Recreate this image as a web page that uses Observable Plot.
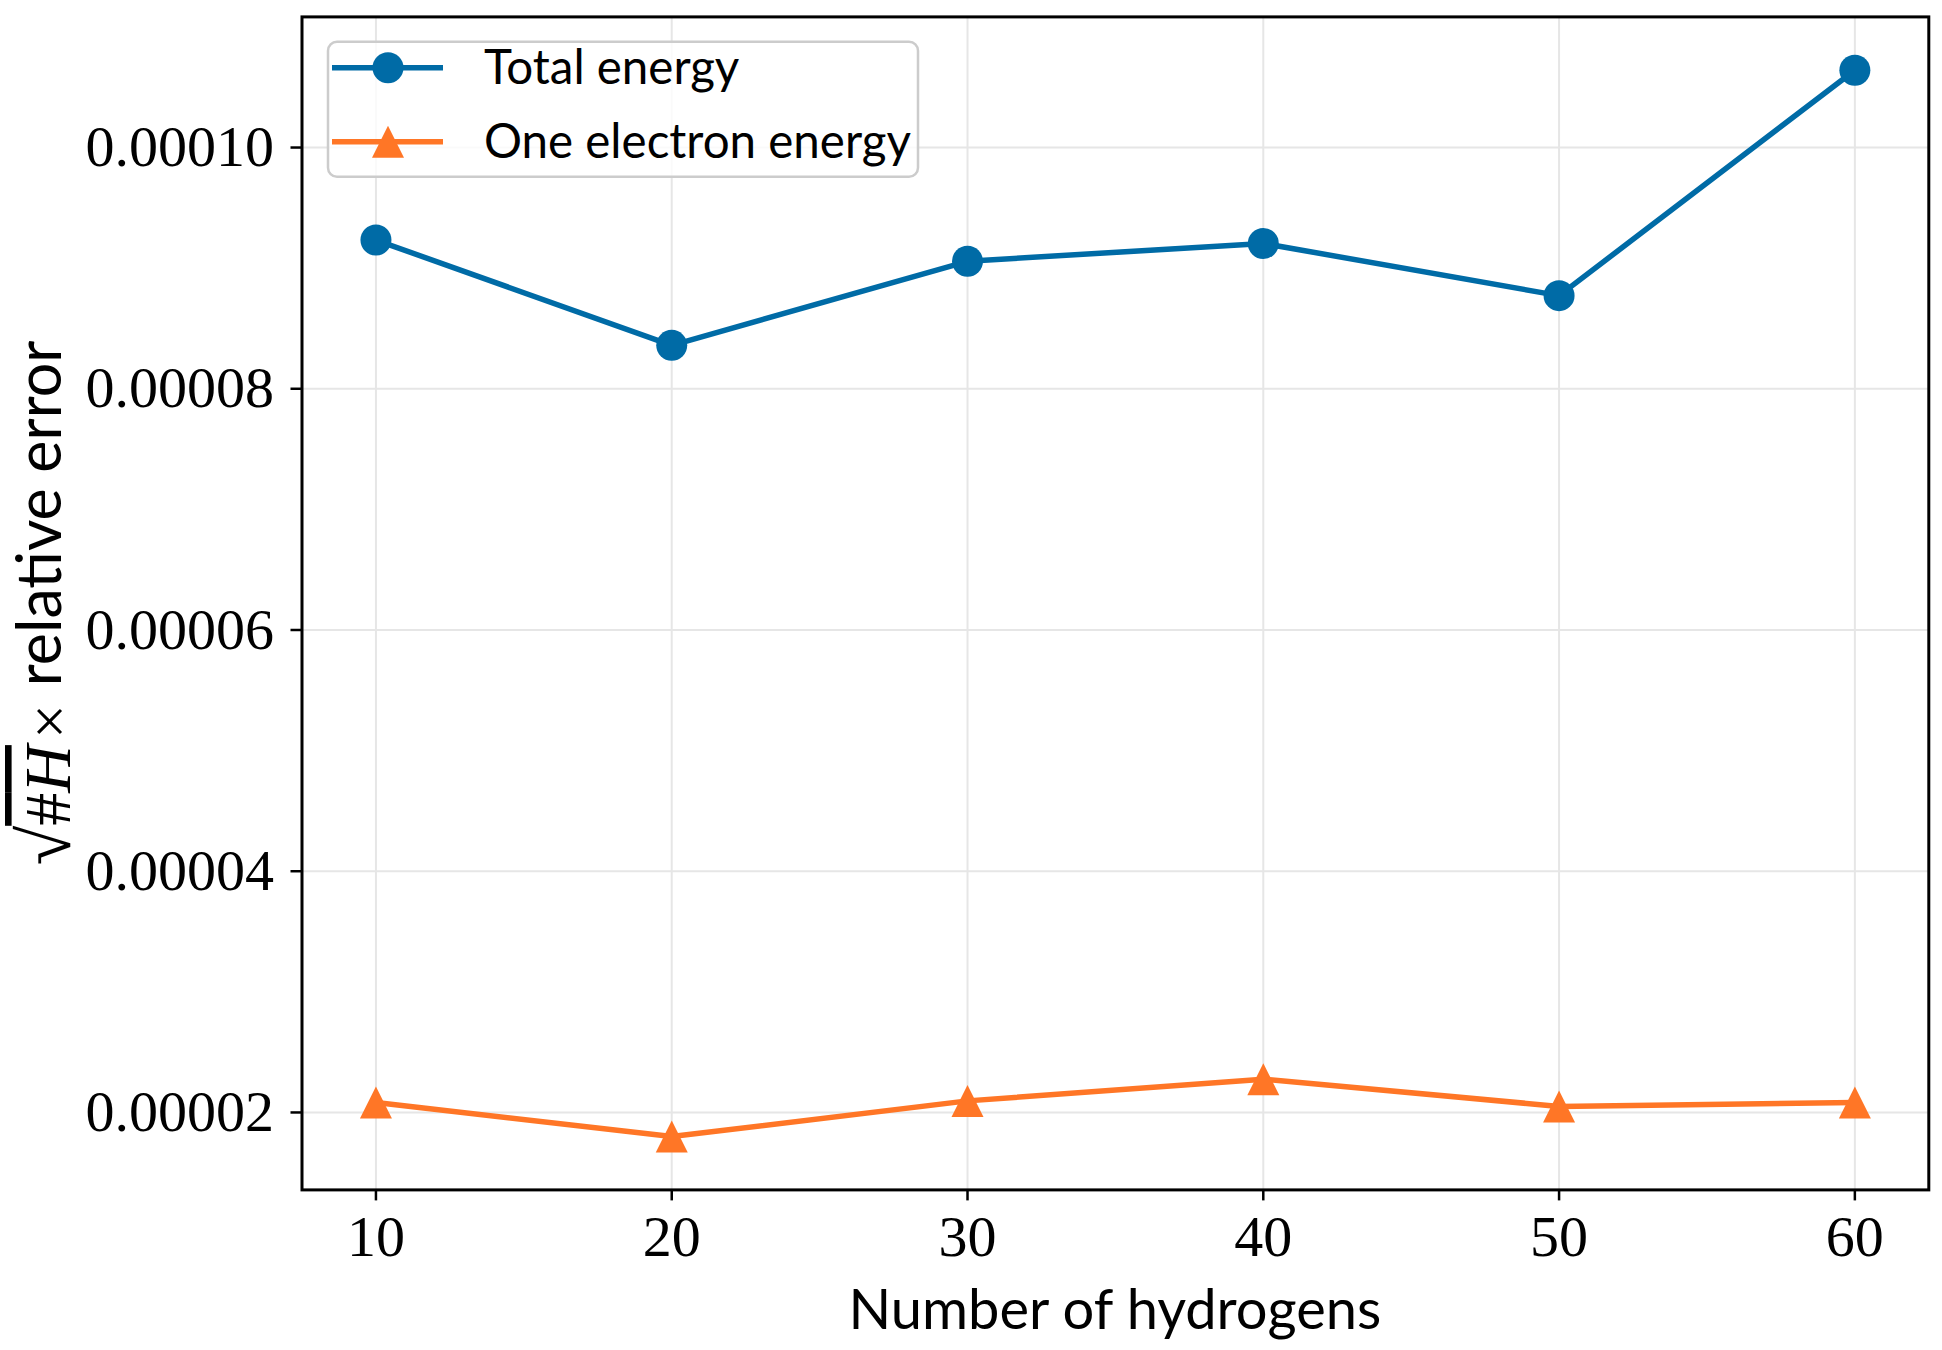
<!DOCTYPE html>
<html><head><meta charset="utf-8">
<script src="https://cdn.jsdelivr.net/npm/d3@7"></script>
<script src="https://cdn.jsdelivr.net/npm/@observablehq/plot@0.6"></script>
<style>body{margin:0;background:#fff}</style>
</head><body><div id="chart"></div>
<script>
const hydrogens = [10, 20, 30, 40, 50, 60];
const totalEnergy = [9.233e-5, 8.36e-5, 9.057e-5, 9.205e-5, 8.772e-5, 1.0641e-4];
const oneElectronEnergy = [2.083e-5, 1.80e-5, 2.096e-5, 2.276e-5, 2.05e-5, 2.083e-5];
const seriesNames = ["Total energy", "One electron energy"];
const seriesColors = ["#006BA6", "#FF7626"];
const xTicks = [10, 20, 30, 40, 50, 60];
const yTicks = [0.00002, 0.00004, 0.00006, 0.00008, 0.00010];
const xLabel = "Number of hydrogens";
const yLabelText = "relative error";

const data = [
  ...hydrogens.map((h, i) => ({h, v: totalEnergy[i], series: seriesNames[0]})),
  ...hydrogens.map((h, i) => ({h, v: oneElectronEnergy[i], series: seriesNames[1]}))
];

function pad(ext) { const d = (ext[1] - ext[0]) * 0.05; return [ext[0] - d, ext[1] + d]; }
const xDomain = pad(d3.extent(hydrogens));
const yDomain = pad(d3.extent(data, d => d.v));

const mplTriangle = {
  draw(ctx, size) {
    const h = Math.sqrt(size / Math.PI);
    ctx.moveTo(0, -h); ctx.lineTo(h, h); ctx.lineTo(-h, h); ctx.closePath();
  }
};

const W = 1942, H = 1350;
const mL = 301.5, mR = 13.7, mT = 16.4, mB = 160.6;
const serif = "Liberation Serif";
const sans = "Lato";

const plot = Plot.plot({
  width: W, height: H,
  marginLeft: mL, marginRight: mR, marginTop: mT, marginBottom: mB,
  style: {background: "white", color: "black", fontFamily: serif},
  x: {domain: xDomain},
  y: {domain: yDomain},
  color: {domain: seriesNames, range: seriesColors},
  marks: [
    Plot.gridX(xTicks, {stroke: "#e6e6e6", strokeOpacity: 1, strokeWidth: 2}),
    Plot.gridY(yTicks, {stroke: "#e6e6e6", strokeOpacity: 1, strokeWidth: 2}),
    Plot.line(data, {x: "h", y: "v", z: "series", stroke: "series", strokeWidth: 5.5}),
    Plot.dot(data.filter(d => d.series === seriesNames[0]), {x: "h", y: "v", symbol: "circle", r: 15.5, fill: "series", stroke: null}),
    Plot.dot(data.filter(d => d.series === seriesNames[1]), {x: "h", y: "v", symbol: mplTriangle, r: 16, fill: "series", stroke: null}),
    Plot.frame({stroke: "black", strokeWidth: 3}),
    Plot.axisX(xTicks, {tickSize: 11, tickPadding: 14, fontSize: 58, fontFamily: serif, label: null, strokeWidth: 2.5, tickFormat: d => String(d)}),
    Plot.axisY(yTicks, {tickSize: 11, tickPadding: 17, fontSize: 58, fontFamily: serif, label: null, strokeWidth: 2.5, tickFormat: d => d.toFixed(5)})
  ]
});
document.getElementById("chart").appendChild(plot);

const svg = d3.select(plot);
// x label
svg.append("text")
  .attr("x", mL + (W - mL - mR) / 2).attr("y", 1329)
  .attr("text-anchor", "middle")
  .attr("font-family", sans).attr("font-size", 56).attr("fill", "black")
  .text(xLabel);

// y label
const yl = svg.append("text")
  .attr("transform", `translate(70, ${mT + (H - mT - mB) / 2}) rotate(-90)`)
  .attr("text-anchor", "middle").attr("fill", "black");
yl.append("tspan").attr("font-family", serif).attr("font-size", 72).text("√");
yl.append("tspan").attr("font-family", serif).attr("font-size", 66).style("text-decoration", "overline").text("#");
yl.append("tspan").attr("font-family", serif).attr("font-size", 66).attr("font-style", "italic").style("text-decoration", "overline").text("H");
yl.append("tspan").attr("font-family", serif).attr("font-size", 62).attr("dx", 6).text("×");
yl.append("tspan").attr("font-family", sans).attr("font-size", 61).attr("dx", 18).attr("dy", -9).text(yLabelText);

// legend
const lg = svg.append("g").attr("text-anchor", "start");
lg.append("rect").attr("x", 328).attr("y", 41.7).attr("width", 590).attr("height", 135)
  .attr("rx", 9).attr("fill", "white").attr("fill-opacity", 0.8)
  .attr("stroke", "#cccccc").attr("stroke-width", 2.5);
const rowsY = [67.7, 141.7];
seriesNames.forEach((name, i) => {
  const y = rowsY[i];
  lg.append("line").attr("x1", 332).attr("x2", 443).attr("y1", y).attr("y2", y)
    .attr("stroke", seriesColors[i]).attr("stroke-width", 5.5);
  if (i === 0) {
    lg.append("circle").attr("cx", 388).attr("cy", y).attr("r", 15.5).attr("fill", seriesColors[i]);
  } else {
    lg.append("path").attr("d", `M388,${y - 16}L404,${y + 16}L372,${y + 16}Z`).attr("fill", seriesColors[i]);
  }
  lg.append("text").attr("x", 484).attr("y", y + 16).attr("text-anchor", "start")
    .attr("font-family", sans).attr("font-size", 47.5).attr("fill", "black").text(name);
});
</script>
</body></html>
